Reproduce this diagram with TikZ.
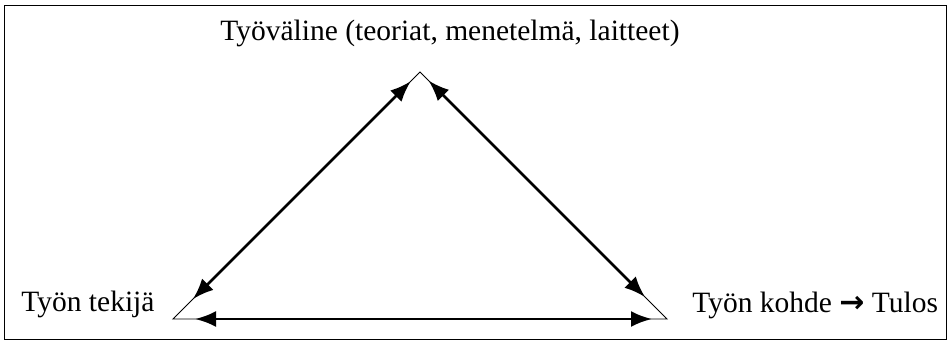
\documentclass[tikz,border=0pt]{standalone}
\usepackage{fontspec}
\setmainfont{Liberation Serif}
\newfontfamily\arrowfont{DejaVu Sans}
\usetikzlibrary{arrows.meta}

\begin{document}
\begin{tikzpicture}[x=1pt, y=-1pt, thick,
    label/.style = {inner sep=0pt, font=\fontsize{29.5}{34}\selectfont},
    edge/.style = {line width=0.9pt},
    both/.style = {line width=2.8pt, {Latex[length=21pt,width=16pt]}-{Latex[length=21pt,width=16pt]}}]
    \useasboundingbox (0,0) rectangle (948,341);
    \draw[line width=1.8pt] (4.5,5.5) rectangle (946.5,339.5);
    % triangle corners
    \coordinate (top) at (420,72);
    \coordinate (left) at (173,319);
    \coordinate (right) at (667,319);
    \draw[edge] (left) -- (top) -- (right) -- cycle;
    \draw[both, shorten <=28pt, shorten >=13pt] (left) -- (top);
    \draw[both, shorten <=31pt, shorten >=12pt] (right) -- (top);
    \draw[both, shorten <=22pt, shorten >=15pt] (left) -- (right);
    % texts
    \node[label, anchor=base west] (tyovaline) at (220,40) {Työväline (teoriat, menetelmä, laitteet)};
    \node[label, anchor=base west] (tekija) at (21,311) {Työn tekijä};
    \node[label, anchor=base west] (kohde) at (692,312) {Työn kohde {\arrowfont\bfseries\fontsize{30}{34}\selectfont →} Tulos};
\end{tikzpicture}
\end{document}
